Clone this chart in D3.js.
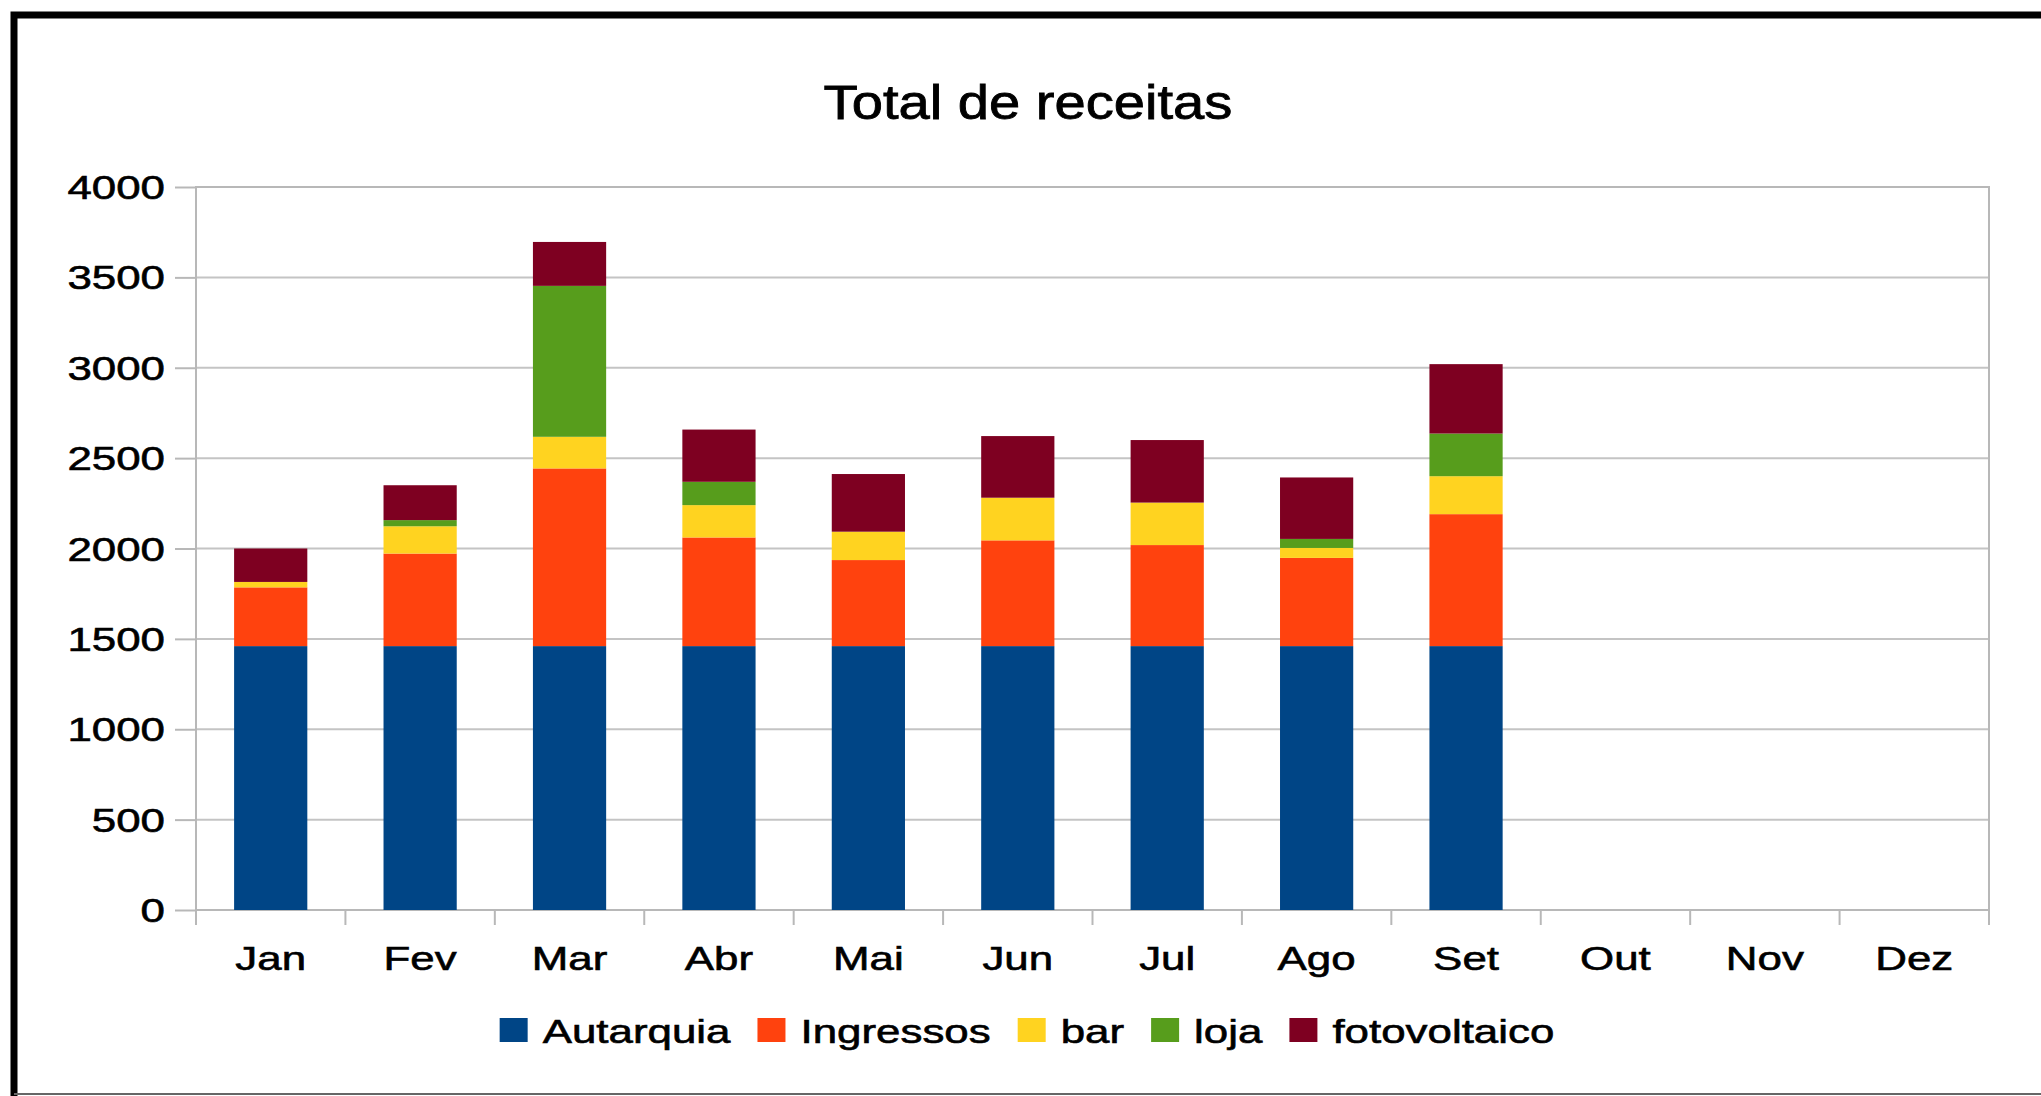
<!DOCTYPE html>
<html>
<head>
<meta charset="utf-8">
<script src="https://cdn.jsdelivr.net/npm/d3@7"></script>
<style>
body{margin:0;background:#fff;overflow:hidden;}
text{font-family:"Liberation Sans",Arial,sans-serif;fill:#000;stroke:#000;stroke-width:0.6px;}
</style>
</head>
<body>
<div id="chart"></div>
<script>
(function(){
"use strict"
//---Total de receitas, stacked bars---

var months = ["Jan","Fev","Mar","Abr","Mai","Jun","Jul","Ago","Set","Out","Nov","Dez"],
	series = ["Autarquia","Ingressos","bar","loja","fotovoltaico"],
	colors = ["#004586","#ff420e","#ffd320","#579d1c","#7e0021"],

	autarquia    = [1460,1460,1460,1460,1460,1460,1460,1460,1460,0,0,0],
	ingressos    = [325,512,983,601,476,585,559,488,730,0,0,0],
	bar          = [30,151,175,179,157,236,235,55,210,0,0,0],
	loja         = [0,34,835,129,0,0,0,50,236,0,0,0],
	fotovoltaico = [185,193,243,289,319,341,346,340,384,0,0,0],

	yTicks = [0,500,1000,1500,2000,2500,3000,3500,4000];

var W = 2041, H = 1096,
	margin = {top:187, right:52, bottom:186, left:196},
	width  = W - margin.left - margin.right,
	height = H - margin.top - margin.bottom,
	sx = 1.33,        //text in the picture is wider than the font
	grid = "#c4c4c4",
	frame = "#b8b8b8";

var cols = [autarquia, ingressos, bar, loja, fotovoltaico];
var rows = months.map(function(m,i){
	var r = {month:m};
	series.forEach(function(s,j){ r[s] = cols[j][i]; });
	return r;
});

var svg = d3.select('#chart').append('svg')
	.attr('width',W)
	.attr('height',H)
	.style('display','block');

svg.append('rect').attr('width',W).attr('height',H).style('fill','#fff');

// outer frame (cut off at right and bottom)
svg.append('path')
	.attr('d','M14,'+H+'V15H'+W)
	.style('fill','none').style('stroke','#000').style('stroke-width',7);
svg.append('line')
	.attr('x1',14).attr('x2',W).attr('y1',H-2).attr('y2',H-2)
	.style('stroke','#666').style('stroke-width',2);

var stretched = function(sel, x, y, s){
	return sel.attr('transform','translate('+x+','+y+') scale('+s+',1)');
};

// title
stretched(svg.append('text'), 1028, 119, 1.17)
	.attr('text-anchor','middle')
	.style('font-size','48px')
	.style('stroke-width','0.8px')
	.text('Total de receitas');

var g = svg.append('g')
	.attr('transform','translate('+margin.left+','+margin.top+')');

var y = d3.scaleLinear().domain([0,4000]).range([height,0]);
var xStep = d3.scaleBand().domain(months).range([0,width]).padding(0);
var x = d3.scaleBand().domain(months).range([0,width])
	.paddingInner(0.51).paddingOuter(0.255);

// gridlines
g.selectAll('.grid').data(yTicks).enter()
	.append('line')
		.attr('x1',0).attr('x2',width)
		.attr('y1',function(d){return y(d);})
		.attr('y2',function(d){return y(d);})
		.style('stroke',grid).style('stroke-width',2);

g.append('rect')
	.attr('width',width).attr('height',height)
	.style('fill','none').style('stroke',frame).style('stroke-width',2);

// bars
var stack = d3.stack().keys(series)(rows);
g.selectAll('.layer').data(stack).enter()
	.append('g')
		.style('fill',function(d,i){return colors[i];})
	.selectAll('rect').data(function(d){return d;}).enter()
		.append('rect')
			.attr('x',function(d){return x(d.data.month);})
			.attr('width',x.bandwidth())
			.attr('y',function(d){return y(d[1]);})
			.attr('height',function(d){return y(d[0])-y(d[1]);});

// y axis
var yAxis = g.append('g')
	.call(d3.axisLeft(y).tickValues(yTicks).tickFormat(d3.format('d'))
		.tickSize(21).tickSizeOuter(0).tickPadding(10));
yAxis.select('.domain').remove();
yAxis.selectAll('line').style('stroke',frame).style('stroke-width',2);
yAxis.selectAll('text')
	.style('font-size','33px')
	.attr('x',-31/sx)
	.attr('dy','0.35em')
	.attr('transform','scale('+sx+',1)');
yAxis.attr('font-size',null).attr('font-family',null);

// x axis: labels at centres, ticks at the step borders
var xAxis = g.append('g')
	.attr('transform','translate(0,'+height+')')
	.call(d3.axisBottom(xStep).tickSize(0).tickPadding(0));
xAxis.select('.domain').remove();
xAxis.attr('font-size',null).attr('font-family',null);
xAxis.selectAll('text')
	.style('font-size','33px')
	.attr('y',60)
	.attr('dy',0)
	.attr('transform','scale('+sx+',1)');

g.selectAll('.xtick').data(months.concat(['end'])).enter()
	.append('line')
		.attr('x1',function(d){return d==='end' ? width : xStep(d);})
		.attr('x2',function(d){return d==='end' ? width : xStep(d);})
		.attr('y1',height).attr('y2',height+15)
		.style('stroke',frame).style('stroke-width',2);

// legend
var legend = svg.append('g');
var lx = 0;
series.forEach(function(s,i){
	var item = legend.append('g').attr('transform','translate('+lx+',0)');
	item.append('rect')
		.attr('x',0).attr('y',1018)
		.attr('width',28).attr('height',24)
		.style('fill',colors[i]);
	var t = stretched(item.append('text'), 43, 1043, sx)
		.style('font-size','33px')
		.text(s);
	lx += 43 + t.node().getComputedTextLength()*sx + 27;
});
lx -= 27;
legend.attr('transform','translate('+(1027 - lx/2)+',0)');

})();
</script>
</body>
</html>
